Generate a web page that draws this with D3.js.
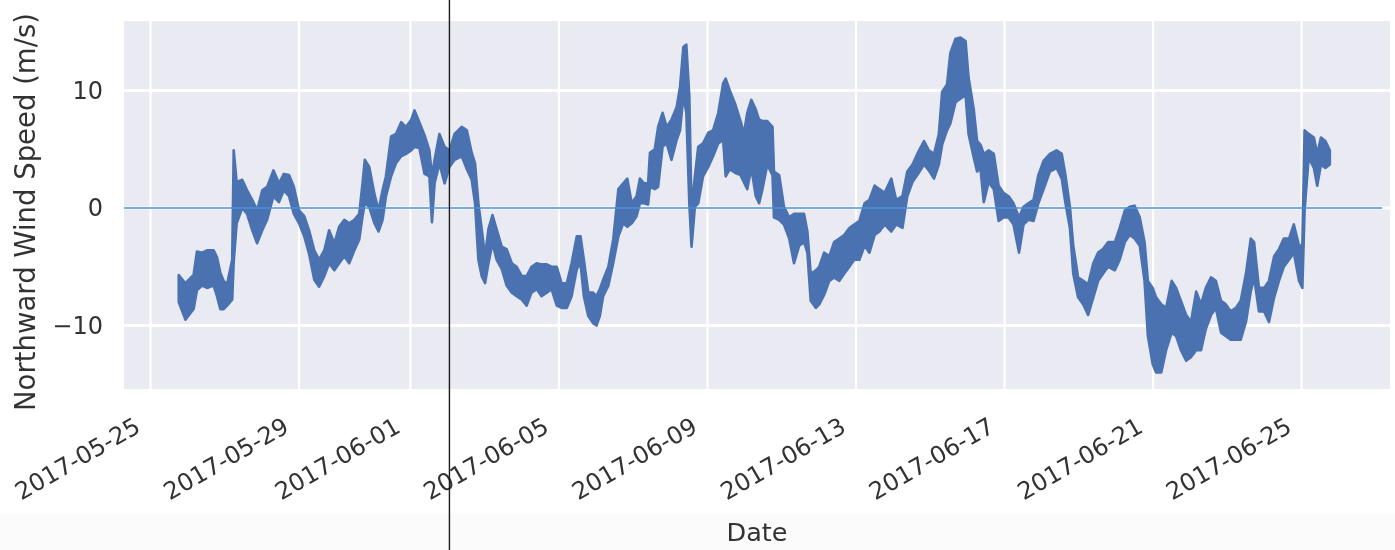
<!DOCTYPE html>
<meta charset="utf-8">
<style>
  body { margin: 0; background: #fff; }
  text { font-family: "DejaVu Sans", sans-serif; fill: #333; }
</style>
<div id="chart"></div>
<script src="https://d3js.org/d3.v7.min.js"></script>
<script>
  // days since 2017-05-25 00:00, with the top and bottom of the noisy band (m/s)
  var days = [0.76,0.94,1.16,1.25,1.39,1.52,1.70,1.79,1.88,1.97,2.06,2.20,2.24,2.32,2.47,2.60,2.74,2.87,3.01,3.14,
    3.31,3.46,3.59,3.73,3.86,4.00,4.14,4.27,4.41,4.54,4.68,4.81,4.95,5.08,5.22,5.35,5.49,5.62,5.71,5.77,
    5.89,6.03,6.14,6.25,6.34,6.48,6.61,6.75,6.88,7.02,7.11,7.24,7.38,7.51,7.58,7.65,7.78,7.92,8.05,8.19,
    8.38,8.52,8.65,8.74,8.83,8.92,9.01,9.10,9.21,9.32,9.46,9.59,9.73,9.86,10.00,10.13,10.26,10.40,10.53,10.67,
    10.80,10.94,11.07,11.21,11.34,11.48,11.58,11.67,11.79,11.92,12.01,12.10,12.19,12.33,12.46,12.60,12.73,12.84,12.96,13.09,
    13.18,13.29,13.40,13.45,13.58,13.67,13.79,13.90,14.03,14.17,14.26,14.35,14.43,14.51,14.57,14.66,14.75,14.88,15.02,15.15,
    15.29,15.42,15.49,15.60,15.74,15.89,15.98,16.07,16.18,16.30,16.39,16.48,16.61,16.75,16.79,16.93,17.06,17.20,17.33,17.47,
    17.60,17.69,17.78,17.92,18.01,18.14,18.28,18.41,18.55,18.68,18.82,18.95,19.09,19.23,19.36,19.50,19.63,19.77,19.95,20.08,
    20.25,20.38,20.52,20.65,20.83,20.96,21.10,21.23,21.32,21.45,21.54,21.68,21.81,21.95,22.03,22.17,22.26,22.35,22.44,22.57,
    22.71,22.84,22.97,23.11,23.24,23.39,23.51,23.64,23.78,23.91,24.05,24.22,24.40,24.54,24.64,24.76,24.85,24.98,25.12,25.25,
    25.39,25.52,25.65,25.79,25.97,26.10,26.24,26.37,26.50,26.64,26.77,26.86,26.99,27.08,27.22,27.35,27.50,27.62,27.75,27.89,
    28.02,28.16,28.29,28.42,28.56,28.69,28.83,28.96,29.09,29.23,29.36,29.50,29.63,29.72,29.85,29.99,30.12,30.26,30.39,30.52,
    30.66,30.79,30.93,31.02,31.08,31.19,31.33,31.42,31.52,31.64,31.76];
  var upper = [-5.7,-6.4,-5.7,-3.7,-3.8,-3.6,-3.6,-4.2,-5.5,-6.2,-6.5,-4.4,4.9,2.2,2.4,1.5,0.7,-0.2,1.5,1.8,
    3.2,2.1,2.9,2.8,1.8,-0.2,-0.7,-1.9,-3.6,-4.4,-3.6,-1.9,-3.0,-1.6,-1.0,-1.3,-1.0,-0.5,2.1,4.1,
    3.5,1.2,-0.2,1.5,2.7,6.1,6.3,7.3,6.9,7.5,8.3,7.3,6.2,4.9,2.7,4.1,6.3,5.2,4.9,6.3,
    6.9,6.6,4.7,3.8,0.4,-1.8,-4.1,-1.8,-0.6,-1.8,-3.3,-3.5,-4.7,-5.0,-5.8,-5.8,-5.0,-4.7,-4.8,-4.8,
    -5.0,-5.0,-6.4,-6.4,-4.7,-2.4,-2.4,-4.4,-7.2,-7.2,-7.5,-6.9,-6.1,-5.0,-2.7,1.6,2.1,2.5,0.4,1.0,
    2.5,2.1,2.1,4.7,5.0,6.9,8.1,6.9,7.5,8.6,10.3,13.7,13.9,9.5,-0.1,2.7,5.2,5.5,6.4,6.6,
    8.1,10.6,11.0,10.0,8.9,7.4,6.3,8.1,9.2,8.4,7.5,7.4,7.4,6.9,3.1,2.8,0.1,-0.8,-0.5,-0.5,
    -0.5,-2.0,-5.6,-5.3,-5.0,-3.8,-4.1,-2.9,-2.6,-2.3,-1.7,-1.4,-1.1,0.4,0.7,1.9,1.6,1.3,2.5,0.7,
    1.0,3.1,3.7,4.6,5.7,4.9,4.6,6.3,9.9,10.5,13.2,14.4,14.5,14.2,11.1,8.4,5.7,5.4,4.6,4.9,
    4.6,1.9,1.3,1.0,0.4,-0.8,0.1,0.4,0.7,2.8,4.0,4.6,4.9,4.6,2.8,0.1,-3.2,-5.9,-6.2,-6.5,
    -4.7,-3.8,-3.5,-2.9,-2.9,-1.7,-0.2,0.1,0.2,-0.8,-2.9,-6.2,-6.8,-7.6,-8.2,-8.5,-6.2,-6.8,-7.9,-9.1,
    -9.7,-7.1,-8.2,-6.8,-5.9,-6.2,-7.9,-8.2,-8.8,-8.5,-7.9,-5.6,-2.6,-2.9,-6.8,-6.8,-6.2,-4.1,-3.5,-2.6,
    -2.6,-1.4,-3.2,-3.2,6.6,6.3,6.0,4.6,6.0,5.7,4.9];
  var lower = [-8.0,-9.5,-8.6,-7.0,-6.6,-6.8,-6.6,-7.5,-8.6,-8.6,-8.3,-7.8,-4.6,-1.3,0.0,-0.5,-1.9,-3.0,-1.9,-1.0,
    1.0,0.5,1.5,1.0,-0.5,-1.3,-2.4,-3.9,-6.1,-6.7,-5.8,-4.7,-5.3,-4.7,-4.1,-4.7,-3.6,-2.7,-0.7,0.4,
    0.1,-1.3,-2.0,-1.0,1.0,2.7,3.8,4.4,4.6,4.9,5.2,5.1,2.9,2.7,-1.2,2.1,3.8,2.1,3.5,4.1,
    4.4,3.3,2.4,0.4,-4.4,-5.8,-6.4,-4.7,-3.0,-4.4,-5.2,-6.6,-7.2,-7.5,-7.8,-8.3,-7.2,-6.9,-7.5,-7.2,
    -6.9,-8.3,-8.5,-8.5,-7.5,-5.2,-4.7,-7.5,-9.2,-9.8,-10.0,-9.2,-7.5,-6.6,-4.7,-2.4,-1.3,-1.6,-1.3,-0.7,
    0.4,0.4,0.3,1.8,1.6,1.8,5.2,5.5,4.1,5.8,6.6,9.5,8.1,0.4,-3.3,0.1,0.4,2.7,3.5,4.4,
    5.5,5.8,2.7,3.3,3.0,2.8,2.2,1.6,3.4,1.0,0.4,1.6,3.7,2.8,-0.8,-1.0,-1.4,-2.6,-4.7,-3.2,
    -2.9,-3.8,-7.9,-8.5,-8.2,-7.4,-6.2,-5.9,-6.2,-5.6,-5.0,-4.4,-4.4,-3.2,-3.8,-2.3,-2.0,-1.4,-2.0,-1.4,
    -1.7,1.0,2.2,2.8,3.7,3.2,2.5,3.7,5.4,6.6,7.2,9.0,9.3,9.6,6.3,4.3,3.1,3.4,0.5,2.2,
    1.6,-1.1,-0.8,-0.8,-1.4,-3.8,-1.4,-1.0,-1.1,0.4,1.6,3.1,3.4,2.5,0.4,-1.7,-5.6,-7.6,-8.2,-9.1,
    -7.6,-6.2,-5.6,-5.0,-5.3,-4.4,-2.9,-2.3,-2.6,-3.2,-6.2,-10.9,-13.3,-14.0,-14.0,-12.1,-10.6,-10.9,-12.1,-13.0,
    -12.7,-12.1,-12.1,-10.3,-9.1,-8.5,-10.6,-10.9,-11.2,-11.2,-11.2,-9.7,-7.1,-5.9,-8.8,-8.8,-9.7,-7.6,-6.2,-5.0,
    -4.4,-3.8,-6.2,-6.8,-0.2,4.3,3.4,1.9,3.7,3.4,3.7];

  var xTickDays = [0, 4, 7, 11, 15, 19, 23, 27, 31];
  var yTicks = [-10, 0, 10];
  var xDomainDays = [-0.714, 33.38];
  var yDomain = [-15.4, 15.91];
  var zeroLineDays = [-0.714, 33.17];
  var markerDay = 8.05;

  var start = Date.UTC(2017, 4, 25);
  function toDate(d) { return new Date(start + d * 864e5); }

  var width = 1395, height = 550;
  var plot = {left: 124, right: 1390, top: 21, bottom: 389};

  var svg = d3.select("#chart").append("svg")
      .attr("width", width)
      .attr("height", height);

  // soft blur, the reference is an upscaled image
  svg.append("defs").append("filter")
      .attr("id", "soft")
      .attr("x", 0).attr("y", 0).attr("width", 1).attr("height", 1)
      .append("feGaussianBlur").attr("stdDeviation", 0.55);

  var root = svg.append("g").attr("filter", "url(#soft)");

  root.append("rect")
      .attr("x", 0).attr("y", 0)
      .attr("width", width).attr("height", height)
      .attr("fill", "#fff");
  root.append("rect")
      .attr("x", 0).attr("y", 514)
      .attr("width", width).attr("height", height - 514)
      .attr("fill", "#fbfbfb");

  var x = d3.scaleUtc()
      .domain(xDomainDays.map(toDate))
      .range([plot.left, plot.right]);
  var y = d3.scaleLinear()
      .domain(yDomain)
      .range([plot.bottom, plot.top]);

  root.append("rect")
      .attr("x", plot.left).attr("y", plot.top)
      .attr("width", plot.right - plot.left)
      .attr("height", plot.bottom - plot.top)
      .attr("fill", "#eaeaf2");

  // grid
  root.append("g").selectAll("line")
      .data(xTickDays).enter().append("line")
      .attr("x1", d => x(toDate(d))).attr("x2", d => x(toDate(d)))
      .attr("y1", plot.top).attr("y2", plot.bottom)
      .attr("stroke", "#fff").attr("stroke-width", 2.2);
  root.append("g").selectAll("line")
      .data(yTicks).enter().append("line")
      .attr("x1", plot.left).attr("x2", plot.right)
      .attr("y1", d => y(d)).attr("y2", d => y(d))
      .attr("stroke", "#fff").attr("stroke-width", 3);

  var fmt = d3.utcFormat("%Y-%m-%d");
  var gx = root.append("g")
      .attr("transform", "translate(0," + plot.bottom + ")")
      .call(d3.axisBottom(x).tickValues(xTickDays.map(toDate)).tickFormat(fmt).tickSize(0));
  gx.select(".domain").remove();
  gx.selectAll("text")
      .attr("y", 0).attr("dy", 0)
      .attr("text-anchor", "end")
      .attr("transform", "translate(-9,42) rotate(-30)")
      .style("font-size", "24px");

  var gy = root.append("g")
      .attr("transform", "translate(" + plot.left + ",0)")
      .call(d3.axisLeft(y).tickValues(yTicks).tickSize(0).tickPadding(21));
  gy.select(".domain").remove();
  gy.selectAll("text").style("font-size", "24px");
  root.selectAll(".tick text").attr("fill", "#333").style("font-family", "'DejaVu Sans', sans-serif");

  // the series
  var pts = days.map((d, i) => ({t: toDate(d), hi: upper[i], lo: lower[i]}));
  var area = d3.area()
      .x(d => x(d.t))
      .y0(d => y(d.lo))
      .y1(d => y(d.hi));
  root.append("path")
      .datum(pts)
      .attr("d", area)
      .attr("fill", "#4c72b0")
      .attr("stroke", "#4c72b0")
      .attr("stroke-width", 2.6)
      .attr("stroke-linejoin", "round");

  // zero reference line
  root.append("line")
      .attr("x1", x(toDate(zeroLineDays[0]))).attr("x2", x(toDate(zeroLineDays[1])))
      .attr("y1", y(0)).attr("y2", y(0))
      .attr("stroke", "#4a90d9").attr("stroke-width", 1.3);

  // marker
  root.append("line")
      .attr("x1", x(toDate(markerDay))).attr("x2", x(toDate(markerDay)))
      .attr("y1", 0).attr("y2", height)
      .attr("stroke", "#1a1a1a").attr("stroke-width", 1.4);

  root.append("text")
      .attr("x", (plot.left + plot.right) / 2)
      .attr("y", 541)
      .attr("text-anchor", "middle")
      .style("font-size", "25.5px")
      .text("Date");

  root.append("text")
      .attr("transform", "translate(35," + 212 + ") rotate(-90)")
      .attr("text-anchor", "middle")
      .style("font-size", "27.5px")
      .text("Northward Wind Speed (m/s)");
</script>
